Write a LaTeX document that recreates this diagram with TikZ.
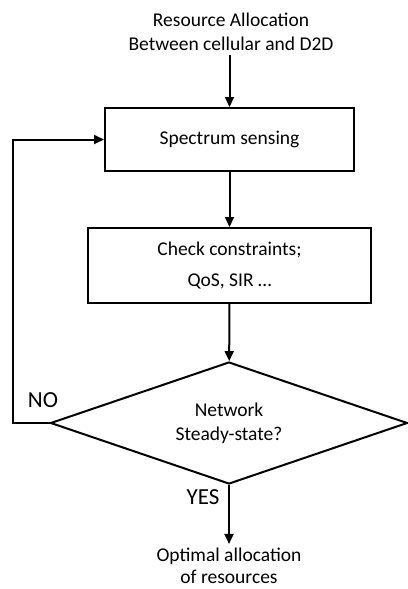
\documentclass[tikz,border=0pt]{standalone}
\usepackage{fontspec}
\setmainfont{Carlito}
\usetikzlibrary{
  arrows.meta,      % 三角箭头
  shapes.geometric  % 菱形判断框
}
\tikzset{
  flow arrow/.style={
    -{Triangle[length=10pt,width=9pt]},
    line width=2pt
  },
  process box/.style={
    draw,
    rectangle,
    line width=2pt,
    inner sep=0pt,
    align=center
  },
  decision box/.style={
    draw,
    diamond,
    aspect=2.93,
    line width=2pt,
    inner sep=0pt,
    minimum width=357pt,
    minimum height=122pt,
    align=center
  },
  plain text/.style={
    align=center,
    inner sep=4pt
  },
  branch label/.style={
    font=\fontsize{23}{26}\selectfont,
    inner sep=0pt
  }
}

\begin{document}
\begin{tikzpicture}[x=1pt, y=-1pt, font=\fontsize{19.5}{24}\selectfont]
  \useasboundingbox (0,0) rectangle (407,589);

  % ==== 1. 起始文字与处理框 ====
  \node[plain text] (start) at (231,32) {Resource Allocation\\Between cellular and D2D};
  \node[process box, minimum width=249pt, minimum height=63pt] (sense) at (229.5,139.5) {Spectrum sensing};
  \node[process box, minimum width=283pt, minimum height=75pt] (check) at (229.5,265.5)
    {Check constraints;\\[7pt]QoS, SIR \dots};

  % ==== 2. 判断菱形与结果 ====
  \node[decision box] (steady) at (229,423) {Network\\Steady-state?};
  \node[plain text, font=\fontsize{19.5}{22}\selectfont] (result) at (229,566) {Optimal allocation\\of resources};

  % 标签
  \node[branch label] (no) at (43,400) {NO};
  \node[branch label] (yes) at (203,497) {YES};

  % ==== 3. 连线 ====
  \draw[flow arrow] (start.south -| sense.north) -- (sense.north);
  \draw[flow arrow] (sense) -- (check);
  \draw[flow arrow] (check) -- (steady);
  \draw[flow arrow] (steady.south) -- (result.north);
  % 返回循环
  \coordinate (back) at (13,423);
  \draw[flow arrow] (steady.west) -- (back) |- (sense.west);
\end{tikzpicture}
\end{document}
